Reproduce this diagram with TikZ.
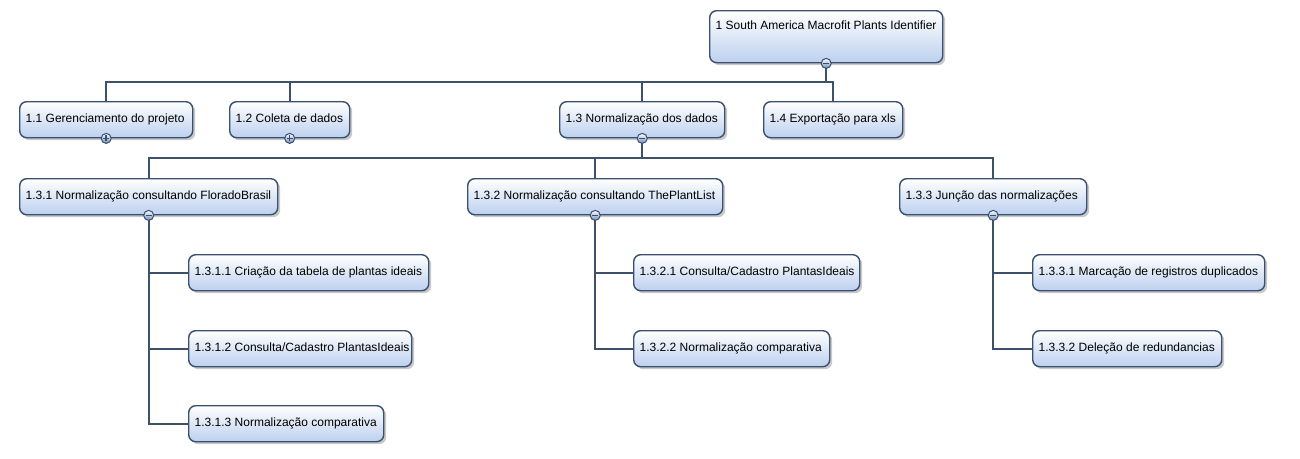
\documentclass[tikz,border=0pt]{standalone}
\usepackage{fontspec}
\setmainfont{Liberation Sans}
\usetikzlibrary{shadows}
\definecolor{bord}{RGB}{58,80,112}
\definecolor{lnc}{RGB}{62,80,106}
\definecolor{fillb}{RGB}{188,208,238}
\definecolor{markf}{RGB}{112,140,184}
\pgfdeclarelayer{bg}
\pgfsetlayers{bg,main}
\newcommand\wbstext[2]{\makebox[#1][l]{#2}}
\begin{document}
\begin{tikzpicture}[x=1pt,y=-1pt,
  wbs/.style={draw=bord, line width=1.4pt, rounded corners=7pt,
    top color=white, bottom color=fillb,
    drop shadow={shadow xshift=2.5pt, shadow yshift=-2.5pt, opacity=0.3, fill=black!70},
    inner xsep=6pt, inner ysep=0pt, anchor=north west,
    font=\fontsize{12}{14}\selectfont, text height=9.5pt, text depth=4.1pt,
    minimum height=36pt},
  conn/.style={draw=lnc, line width=2.2pt},
  markc/.style={circle, draw=bord, line width=1pt, top color=white, bottom color=markf, minimum size=10pt, inner sep=0pt},
  sym/.style={draw=bord, line width=1.5pt}]
\useasboundingbox (0,0) rectangle (1300,458);

% nodes
\node[wbs, minimum height=52pt, text height=19pt, text depth=33pt] (n1) at (709,10) {\wbstext{221pt}{1 South America Macrofit Plants Identifier}};

\node[wbs] (n11) at (19,101) {\wbstext{161pt}{1.1 Gerenciamento do projeto}};
\node[wbs] (n12) at (229,101) {\wbstext{108pt}{1.2 Coleta de dados}};
\node[wbs] (n13) at (559,101) {\wbstext{153pt}{1.3 Normalização dos dados}};
\node[wbs] (n14) at (763,101) {\wbstext{127pt}{1.4 Exportação para xls}};

\node[wbs] (n131) at (19,178) {\wbstext{246pt}{1.3.1 Normalização consultando FloradoBrasil}};
\node[wbs] (n132) at (467,178) {\wbstext{243pt}{1.3.2 Normalização consultando ThePlantList}};
\node[wbs] (n133) at (899,178) {\wbstext{175pt}{1.3.3 Junção das normalizações}};

\node[wbs] (n1311) at (188,254) {\wbstext{228pt}{1.3.1.1 Criação da tabela de plantas ideais}};
\node[wbs] (n1312) at (188,330) {\wbstext{211pt}{1.3.1.2 Consulta/Cadastro PlantasIdeais}};
\node[wbs] (n1313) at (188,405) {\wbstext{183pt}{1.3.1.3 Normalização comparativa}};
\node[wbs] (n1321) at (633,254) {\wbstext{214pt}{1.3.2.1 Consulta/Cadastro PlantasIdeais}};
\node[wbs] (n1322) at (633,330) {\wbstext{184pt}{1.3.2.2 Normalização comparativa}};
\node[wbs] (n1331) at (1032,254) {\wbstext{220pt}{1.3.3.1 Marcação de registros duplicados}};
\node[wbs] (n1332) at (1032,330) {\wbstext{177pt}{1.3.3.2 Deleção de redundancias}};

\coordinate (bus1) at (0,82);
\coordinate (bus2) at (0,158);

\begin{pgfonlayer}{bg}
\draw[conn] (n1.south) -- (n1.south |- bus1);
\draw[conn] (n11.north) |- (bus1 -| n14.north) -- (n14.north);
\draw[conn] (n12.north) -- (n12.north |- bus1);
\draw[conn] (n13.north) -- (n13.north |- bus1);

\draw[conn] (n13.south) -- (n13.south |- bus2);
\draw[conn] (n131.north) |- (bus2 -| n133.north) -- (n133.north);
\draw[conn] (n132.north) -- (n132.north |- bus2);

\draw[conn] (n131.south) |- (n1311.west);
\draw[conn] (n131.south) |- (n1312.west);
\draw[conn] (n131.south) |- (n1313.west);
\draw[conn] (n132.south) |- (n1321.west);
\draw[conn] (n132.south) |- (n1322.west);
\draw[conn] (n133.south) |- (n1331.west);
\draw[conn] (n133.south) |- (n1332.west);
\end{pgfonlayer}

% expand/collapse markers
\node[markc] (k1) at (n1.south) {};
\draw[sym] ([xshift=-3pt]k1.center) -- ([xshift=3pt]k1.center);
\node[markc] (k11) at (n11.south) {};
\draw[sym] ([xshift=-3pt]k11.center) -- ([xshift=3pt]k11.center);
\draw[sym] ([yshift=-3pt]k11.center) -- ([yshift=3pt]k11.center);
\node[markc] (k12) at (n12.south) {};
\draw[sym] ([xshift=-3pt]k12.center) -- ([xshift=3pt]k12.center);
\draw[sym] ([yshift=-3pt]k12.center) -- ([yshift=3pt]k12.center);
\node[markc] (k13) at (n13.south) {};
\draw[sym] ([xshift=-3pt]k13.center) -- ([xshift=3pt]k13.center);
\node[markc] (k131) at (n131.south) {};
\draw[sym] ([xshift=-3pt]k131.center) -- ([xshift=3pt]k131.center);
\node[markc] (k132) at (n132.south) {};
\draw[sym] ([xshift=-3pt]k132.center) -- ([xshift=3pt]k132.center);
\node[markc] (k133) at (n133.south) {};
\draw[sym] ([xshift=-3pt]k133.center) -- ([xshift=3pt]k133.center);
\end{tikzpicture}
\end{document}
